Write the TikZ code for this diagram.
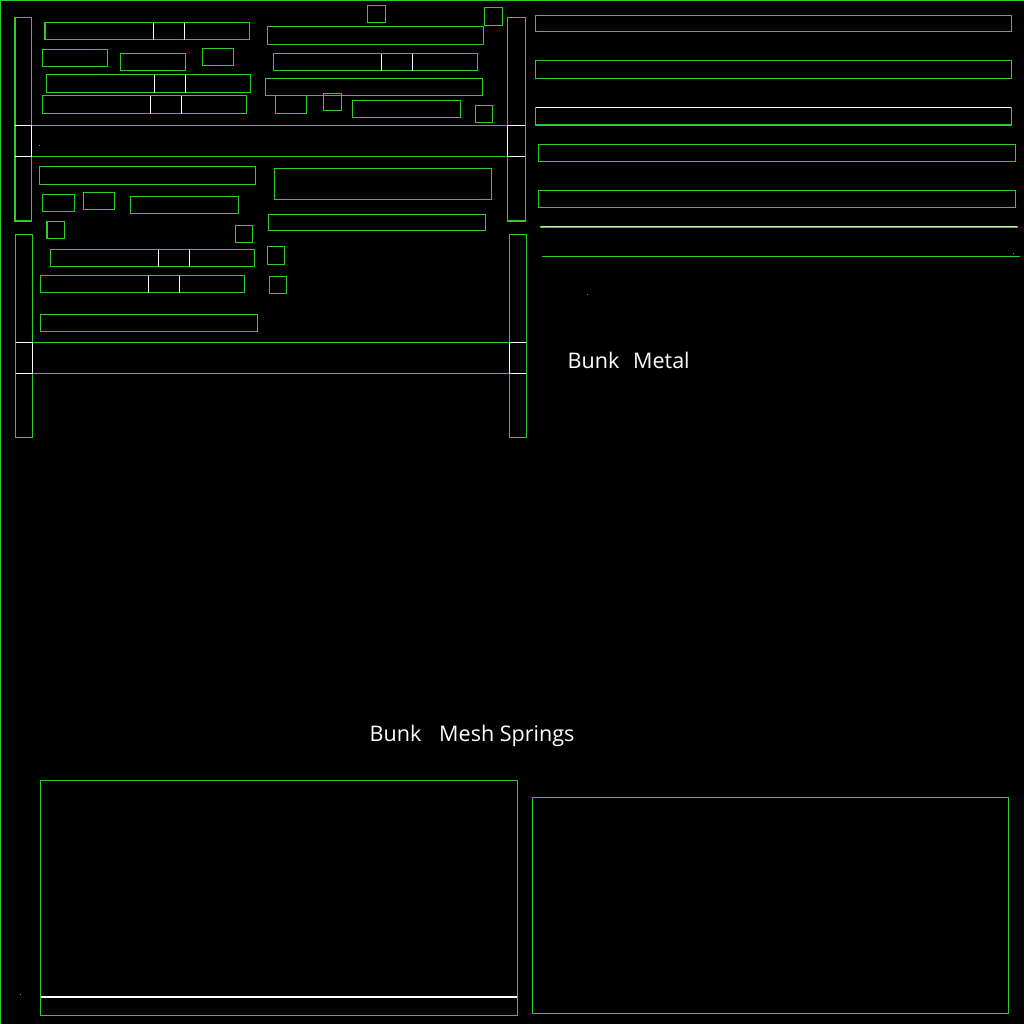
\documentclass[tikz,border=0pt]{standalone}
\usepackage{fontspec}
\setmainfont{Open Sans}
\definecolor{uvgreen}{RGB}{45,205,45}
\tikzset{
  x=0.01cm,y=-0.01cm,
  wire/.style={draw=uvgreen,line width=0.011cm,line cap=rect},
  seam/.style={draw=white,line width=0.011cm},
  thickseam/.style={draw=white,line width=0.02cm},
  caption/.style={text=white,font=\fontsize{6.12pt}{8pt}\selectfont,inner sep=0pt,anchor=base west}
}
\newcommand{\uvbox}[4]{\draw[wire] (#1,#3) rectangle (#2,#4);}
\newcommand{\uvbar}[6]{\draw[wire] (#1,#3) rectangle (#2,#4);
  \draw[seam] (#5,#3) -- (#5,#4) (#6,#3) -- (#6,#4);}
\newcommand{\uvdot}[2]{\fill[uvgreen] (#1,#2) rectangle +(1,1);}
\begin{document}
\begin{tikzpicture}
\useasboundingbox (0,0) rectangle (1024,1024);
\fill[black] (0,0) rectangle (1024,1024);
% outer edge
\draw[uvgreen,line width=0.012cm] (0.6,1024) -- (0.6,0.6) -- (1024,0.6);
% upper frame
\uvbox{15}{31.5}{17.5}{221}
\uvbox{507.5}{525.5}{17.5}{221}
\draw[wire] (31.5,125.5) -- (507.5,125.5) (31.5,156.5) -- (507.5,156.5);
\draw[seam] (15,125.5) -- (31.5,125.5) -- (31.5,156.5) -- (15,156.5);
\draw[seam] (525,125.5) -- (507.5,125.5) -- (507.5,156.5) -- (525,156.5);
\uvbar{45}{249.5}{22.5}{39.5}{153.5}{184.5}
\uvbox{42.5}{107.5}{49.5}{66.5}
\uvbox{120.5}{185.5}{53.5}{70.5}
\uvbox{202.5}{233.5}{48.5}{65.5}
\uvbar{46.5}{250.5}{74.5}{92.5}{154.5}{185.5}
\uvbar{42.5}{246.5}{95.5}{113.5}{150.5}{181.5}
\uvbox{367.5}{385.5}{5.5}{22.5}
\uvbox{484.5}{502.5}{7.5}{25.5}
\uvbox{267.5}{483.5}{26.5}{44.5}
\uvbar{273.5}{477.5}{53.5}{70.5}{381.5}{412.5}
\uvbox{265.5}{482.5}{78.5}{95.5}
\uvbox{275.5}{306.5}{95.5}{113.5}
\uvbox{323.5}{341.5}{93.5}{110.5}
\uvbox{352.5}{460.5}{100.5}{117.5}
\uvbox{475.5}{492.5}{105.5}{122.5}
\uvbox{39.5}{255.5}{166.5}{184.5}
\uvbox{42.5}{74.5}{194.5}{211.5}
\uvbox{83.5}{114.5}{192.5}{209.5}
\uvbox{130.5}{238.5}{196.5}{213.5}
\uvbox{274.5}{491.5}{168.5}{199.5}
\draw[wire] (268.5,214.5) -- (485.3,214.5) -- (485.3,230.5) -- (268.5,230.5) -- cycle;
% lower frame
\uvbox{15.5}{32.5}{234.5}{437.5}
\uvbox{509.5}{526.5}{234.5}{437.5}
\draw[wire] (32.5,342.5) -- (509.5,342.5) (32.5,373.5) -- (509.5,373.5);
\draw[seam] (15.5,342.5) -- (32.5,342.5) -- (32.5,373.5) -- (15.5,373.5);
\draw[seam] (526,342.5) -- (509.5,342.5) -- (509.5,373.5) -- (526,373.5);
\uvbox{47}{64.5}{221.5}{238.5}
\uvbox{235.5}{252.5}{225.5}{242.5}
\uvbar{50.5}{254.5}{249.5}{266.5}{158.5}{189.5}
\uvbar{40.5}{244.5}{275.5}{292.5}{148.5}{179.5}
\uvbox{40.5}{257.5}{314.5}{331.5}
\uvbox{267.5}{284.5}{246.5}{264.5}
\uvbox{269.5}{286.5}{276.5}{293.5}
% right strips
\uvbox{535.5}{1011.5}{15.5}{31.5}
\uvbox{535.5}{1011.5}{60.5}{78.5}
\uvbox{535.5}{1011.5}{107.5}{125}
\draw[seam] (536,107.5) -- (1011,107.5);
\uvbox{538.5}{1015.5}{144.5}{161.5}
\uvbox{538.5}{1015.5}{190.5}{207.5}
\draw[uvgreen,line width=0.02cm] (540,226.8) -- (1017.7,226.8);
\draw[white!70!uvgreen,line width=0.01cm] (541,226.8) -- (1016.7,226.8);
\draw[wire,line cap=butt] (542,256.5) -- (1020,256.5);
% stray pixels
\uvdot{39}{145}
\uvdot{1013}{253}
\uvdot{587}{294}
\uvdot{20}{994}
% bottom panels
\uvbox{40.5}{517.5}{780.5}{1015.5}
\draw[thickseam] (41,997) -- (517,997);
\uvbox{532.5}{1008.5}{797.5}{1013.5}
% captions
\node[caption] (metal) at (567,368) {Bunk\hspace{0.64em}Metal};
\node[caption] (mesh) at (369,741) {Bunk\hspace{0.83em}Mesh Springs};
\end{tikzpicture}
\end{document}
